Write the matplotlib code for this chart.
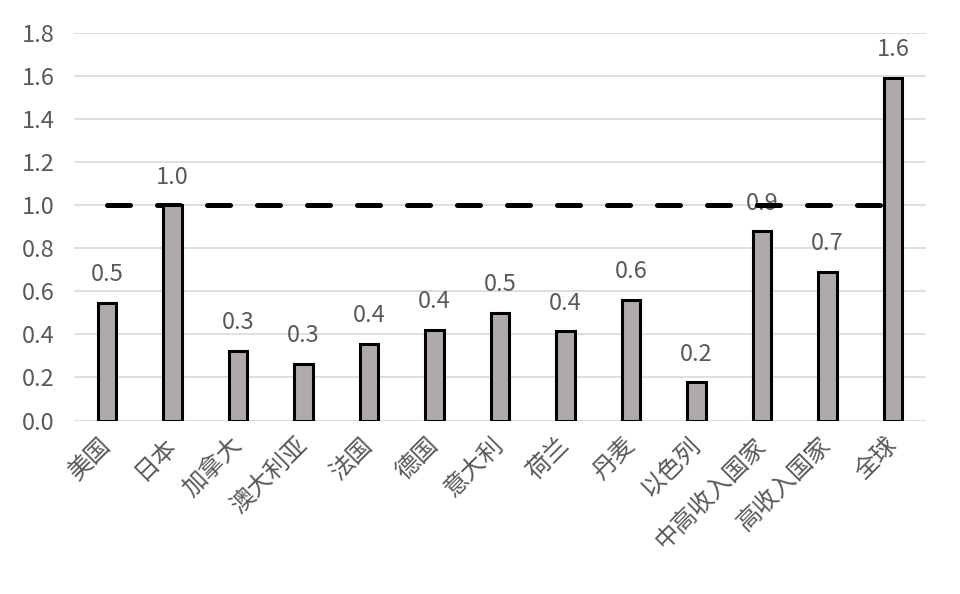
import matplotlib
matplotlib.use("Agg")
import matplotlib.pyplot as plt
import numpy as np

plt.rcParams['font.family'] = ['Noto Sans CJK SC', 'DejaVu Sans']

# Data
categories = ['美国', '日本', '加拿大', '澳大利亚', '法国', '德国', '意大利',
              '荷兰', '丹麦', '以色列', '中高收入国家', '高收入国家', '全球']
values = [0.547, 1.0, 0.323, 0.264, 0.355, 0.42, 0.50,
          0.415, 0.56, 0.178, 0.879, 0.69, 1.59]
reference = [1.0] * len(categories)

grey_text = '#595959'

fig = plt.figure(figsize=(9.6, 5.94), dpi=100)
ax = fig.add_axes([74.2 / 960, 173.5 / 594, 851.5 / 960, 387.8 / 594])

x = np.arange(len(categories))

# bars
bars = ax.bar(x, values, width=0.28, color='#aeaaaa', edgecolor='black',
              linewidth=2.2, zorder=4)

# reference line at 1.0 (behind bars, over labels)
ax.plot(x, reference, color='black', linewidth=3.6, linestyle=(0, (4.6, 5.4)),
        dash_capstyle='round', zorder=3)

# value labels
for xi, v in zip(x, values):
    ax.annotate(f'{v:.1f}', xy=(xi, v), xytext=(0, 15.5), textcoords='offset points',
                ha='center', va='baseline', fontsize=17, color=grey_text, zorder=2)

ax.set_xlim(-0.5, len(categories) - 0.5)
ax.set_ylim(0, 1.8)
ax.set_yticks(np.arange(0, 1.81, 0.2))
ax.set_yticklabels([f'{t:.1f}' for t in np.arange(0, 1.81, 0.2)])

ax.set_xticks(x)
ax.set_xticklabels(categories, rotation=45, ha='right', va='center',
                   rotation_mode='anchor')

ax.tick_params(axis='both', length=0, labelsize=17, colors=grey_text)
ax.tick_params(axis='x', labelsize=17.5, pad=15)
ax.tick_params(axis='y', pad=14)

ax.grid(axis='y', color='#d9d9d9', linewidth=1.2, zorder=0)
ax.set_axisbelow(True)
for s in ax.spines.values():
    s.set_visible(False)

fig.savefig('out.png', dpi=100)
